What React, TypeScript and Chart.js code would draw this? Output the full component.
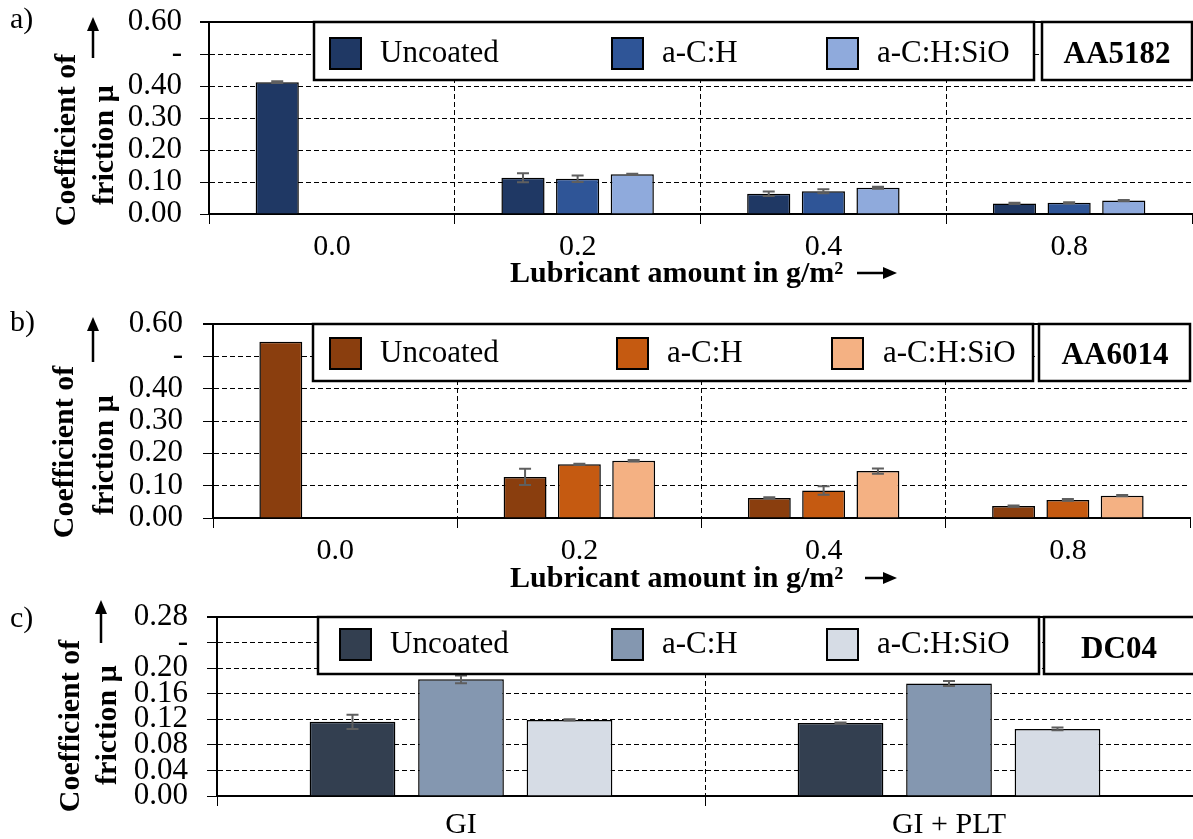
import React, { useEffect, useRef } from 'react';
import { Chart, registerables } from 'chart.js';

Chart.register(...registerables);

const FONT = "'Liberation Serif', 'Times New Roman', serif";

// ---------- data ----------
const seriesNames = ['Uncoated', 'a-C:H', 'a-C:H:SiO'];
const lubricantAmounts = ['0.0', '0.2', '0.4', '0.8'];
const dcCategories = ['GI', 'GI + PLT'];

const aaTickLabels = ['0.00', '0.10', '0.20', '0.30', '0.40', '-', '0.60'];
const dcTickLabels = ['0.00', '0.04', '0.08', '0.12', '0.16', '0.20', '-', '0.28'];

// AA5182
const aa5182Uncoated = [0.412, 0.113, 0.063, 0.033];
const aa5182UncoatedErr = [0.003, 0.014, 0.007, 0.002];
const aa5182ACH = [null, 0.110, 0.071, 0.035];
const aa5182ACHErr = [null, 0.010, 0.006, 0.002];
const aa5182SiO = [null, 0.124, 0.082, 0.042];
const aa5182SiOErr = [null, 0.002, 0.003, 0.002];

// AA6014
const aa6014Uncoated = [0.545, 0.127, 0.062, 0.037];
const aa6014UncoatedErr = [null, 0.025, 0.002, 0.002];
const aa6014ACH = [null, 0.166, 0.085, 0.056];
const aa6014ACHErr = [null, 0.002, 0.013, 0.003];
const aa6014SiO = [null, 0.177, 0.145, 0.069];
const aa6014SiOErr = [null, 0.002, 0.008, 0.002];

// DC04
const dc04Uncoated = [0.116, 0.114];
const dc04UncoatedErr = [0.011, 0.001];
const dc04ACH = [0.1825, 0.176];
const dc04ACHErr = [0.006, 0.004];
const dc04SiO = [0.119, 0.105];
const dc04SiOErr = [0.001, 0.002];

const aa5182Colors = ['#1F3864', '#2F5597', '#8FAADC'];
const aa6014Colors = ['#8A3E0E', '#C55A11', '#F4B183'];
const dc04Colors = ['#333F50', '#8497B0', '#D6DCE5'];

// ---------- helpers ----------
function drawArrow(ctx: CanvasRenderingContext2D, x1: number, y1: number, x2: number, y2: number) {
  const ang = Math.atan2(y2 - y1, x2 - x1);
  const hl = 14;
  const hw = 6;
  const bx = x2 - hl * Math.cos(ang);
  const by = y2 - hl * Math.sin(ang);
  ctx.save();
  ctx.strokeStyle = '#000';
  ctx.fillStyle = '#000';
  ctx.lineWidth = 2.5;
  ctx.beginPath();
  ctx.moveTo(x1, y1);
  ctx.lineTo(bx, by);
  ctx.stroke();
  ctx.beginPath();
  ctx.moveTo(x2, y2);
  ctx.lineTo(bx + hw * Math.sin(ang), by - hw * Math.cos(ang));
  ctx.lineTo(bx - hw * Math.sin(ang), by + hw * Math.cos(ang));
  ctx.closePath();
  ctx.fill();
  ctx.restore();
}

function rotText(ctx: CanvasRenderingContext2D, text: string, x: number, y: number) {
  ctx.save();
  ctx.translate(x, y);
  ctx.rotate(-Math.PI / 2);
  ctx.textAlign = 'center';
  ctx.textBaseline = 'middle';
  ctx.fillText(text, 0, 0);
  ctx.restore();
}

type Layout = {
  canvasTop: number;
  height: number;
  area: { left: number; top: number; right: number; bottom: number };
  xAxisHeight: number;
  yTickLen: number;
  yTickPad: number;
  xTickLen: number;
  xTickPad: number;
  legendBox: { x: number; y: number; w: number; h: number };
  swatchX: number[];
  swatchY: number;
  textX: number[];
  textBaseline: number;
  matBox: { x: number; y: number; w: number; h: number };
  matCenterX: number;
  matBaseline: number;
  letterBaseline: number;
  yTitle1: { x: number; y: number };
  yTitle2: { x: number; y: number };
  yArrow: { x: number; tail: number; tip: number };
  xTitle: { x: number; baseline: number; arrowFrom: number; arrowTo: number; arrowY: number } | null;
};

type PanelProps = {
  layout: Layout;
  labels: string[];
  values: (number | null)[][];
  errors: (number | null)[][];
  colors: string[];
  yMax: number;
  yStep: number;
  tickLabels: string[];
  material: string;
  letter: string;
};

const W = 1193;

function Panel({ layout: L, labels, values, errors, colors, yMax, yStep, tickLabels, material, letter }: PanelProps) {
  const ref = useRef<HTMLCanvasElement>(null);

  useEffect(() => {
    const canvas = ref.current;
    if (!canvas) return;

    const deco = {
      id: 'deco',
      afterDatasetsDraw(chart: any) {
        const ctx: CanvasRenderingContext2D = chart.ctx;
        const ys = chart.scales.y;
        const { left, right, top } = chart.chartArea;
        // error bars
        chart.data.datasets.forEach((ds: any, i: number) => {
          const meta = chart.getDatasetMeta(i);
          ds.errors.forEach((e: number | null, j: number) => {
            const v = ds.data[j];
            if (v == null || e == null) return;
            const bar = meta.data[j];
            const x = bar.x;
            const y1 = ys.getPixelForValue(v + e);
            const y2 = ys.getPixelForValue(v - e);
            ctx.save();
            ctx.strokeStyle = '#5f5f5f';
            ctx.lineWidth = 2;
            ctx.beginPath();
            ctx.moveTo(x, y1);
            ctx.lineTo(x, y2);
            ctx.moveTo(x - 6, y1);
            ctx.lineTo(x + 6, y1);
            ctx.moveTo(x - 6, y2);
            ctx.lineTo(x + 6, y2);
            ctx.stroke();
            ctx.restore();
          });
        });
        // top frame line
        ctx.save();
        ctx.strokeStyle = '#000';
        ctx.lineWidth = 2;
        ctx.beginPath();
        ctx.moveTo(left - L.yTickLen, top);
        ctx.lineTo(right, top);
        ctx.stroke();
        ctx.restore();

        // legend box
        const lb = L.legendBox;
        ctx.save();
        ctx.fillStyle = '#fff';
        ctx.fillRect(lb.x, lb.y, lb.w, lb.h);
        ctx.strokeStyle = '#000';
        ctx.lineWidth = 2.5;
        ctx.strokeRect(lb.x, lb.y, lb.w, lb.h);
        chart.data.datasets.forEach((ds: any, i: number) => {
          ctx.fillStyle = ds.backgroundColor;
          ctx.fillRect(L.swatchX[i], L.swatchY, 31, 31);
          ctx.strokeStyle = '#000';
          ctx.lineWidth = 2;
          ctx.strokeRect(L.swatchX[i], L.swatchY, 31, 31);
          ctx.fillStyle = '#000';
          ctx.font = `31px ${FONT}`;
          ctx.textAlign = 'left';
          ctx.textBaseline = 'alphabetic';
          ctx.fillText(ds.label, L.textX[i], L.textBaseline);
        });
        // material box
        const mb = L.matBox;
        ctx.fillStyle = '#fff';
        ctx.fillRect(mb.x, mb.y, mb.w, mb.h);
        ctx.strokeStyle = '#000';
        ctx.lineWidth = 2.5;
        ctx.strokeRect(mb.x, mb.y, mb.w, mb.h);
        ctx.fillStyle = '#000';
        ctx.font = `bold 31px ${FONT}`;
        ctx.textAlign = 'center';
        ctx.fillText(material, L.matCenterX, L.matBaseline);
        ctx.restore();
      },
      afterDraw(chart: any) {
        const ctx: CanvasRenderingContext2D = chart.ctx;
        ctx.save();
        ctx.fillStyle = '#000';
        ctx.font = `30px ${FONT}`;
        ctx.textAlign = 'left';
        ctx.textBaseline = 'alphabetic';
        ctx.fillText(letter, 10, L.letterBaseline);
        ctx.font = `bold 30px ${FONT}`;
        rotText(ctx, 'Coefficient of', L.yTitle1.x, L.yTitle1.y);
        rotText(ctx, 'friction µ', L.yTitle2.x, L.yTitle2.y);
        drawArrow(ctx, L.yArrow.x, L.yArrow.tail, L.yArrow.x, L.yArrow.tip);
        if (L.xTitle) {
          ctx.font = `bold 30px ${FONT}`;
          ctx.textAlign = 'left';
          ctx.textBaseline = 'alphabetic';
          ctx.fillText('Lubricant amount in g/m²', L.xTitle.x, L.xTitle.baseline);
          drawArrow(ctx, L.xTitle.arrowFrom, L.xTitle.arrowY, L.xTitle.arrowTo, L.xTitle.arrowY);
        }
        ctx.restore();
      },
    };

    const chart = new Chart(canvas, {
      type: 'bar',
      data: {
        labels,
        datasets: values.map((vals, i) => ({
          label: seriesNames[i],
          data: vals,
          errors: errors[i],
          backgroundColor: colors[i],
          borderColor: '#000',
          borderWidth: 1.5,
          categoryPercentage: 0.667,
          barPercentage: 0.79,
        })) as any,
      },
      options: {
        animation: false,
        responsive: false,
        maintainAspectRatio: false,
        layout: {
          padding: {
            left: 0,
            top: L.area.top,
            right: W - L.area.right,
            bottom: L.height - L.area.bottom - L.xAxisHeight,
          },
        },
        plugins: {
          legend: { display: false },
          tooltip: { enabled: false },
        },
        scales: {
          x: {
            offset: true,
            grid: {
              offset: true,
              color: (c: any) => (c.index === undefined ? 'rgba(0,0,0,0)' : '#000'),
              tickColor: '#000',
              lineWidth: 1,
              tickLength: L.xTickLen,
            },
            border: { color: '#000', width: 2, dash: [5, 3] },
            ticks: {
              color: '#000',
              font: { family: FONT, size: 30 },
              padding: L.xTickPad,
              autoSkip: false,
              maxRotation: 0,
            },
            afterFit: (s: any) => {
              s.height = L.xAxisHeight;
              s.paddingLeft = 0;
              s.paddingRight = 0;
            },
          },
          y: {
            min: 0,
            max: yMax,
            grid: {
              color: '#000',
              tickColor: '#000',
              lineWidth: 1,
              tickLength: L.yTickLen,
            },
            border: { color: '#000', width: 2, dash: [5, 3] },
            ticks: {
              stepSize: yStep,
              autoSkip: false,
              color: '#000',
              font: { family: FONT, size: 31 },
              padding: L.yTickPad,
              callback: (v: any) => tickLabels[Math.round(Number(v) / yStep)] ?? '',
            },
            afterFit: (s: any) => {
              s.width = L.area.left;
              s.paddingTop = 0;
              s.paddingBottom = 0;
            },
          },
        },
      } as any,
      plugins: [deco as any],
    });
    return () => chart.destroy();
  }, []);

  return (
    <canvas
      ref={ref}
      width={W}
      height={L.height}
      style={{ position: 'absolute', left: 0, top: L.canvasTop, display: 'block' }}
    />
  );
}

const layoutA: Layout = {
  canvasTop: 0,
  height: 300,
  area: { left: 209, top: 22, right: 1192, bottom: 214 },
  xAxisHeight: 50,
  yTickLen: 9,
  yTickPad: 18,
  xTickLen: 10,
  xTickPad: 5,
  legendBox: { x: 314, y: 22, w: 720, h: 58 },
  swatchX: [330, 612, 827],
  swatchY: 38,
  textX: [380, 662, 877],
  textBaseline: 62,
  matBox: { x: 1042, y: 22, w: 150, h: 58 },
  matCenterX: 1117,
  matBaseline: 63,
  letterBaseline: 28,
  yTitle1: { x: 67, y: 140 },
  yTitle2: { x: 105, y: 145 },
  yArrow: { x: 93, tail: 58, tip: 17 },
  xTitle: { x: 510, baseline: 282, arrowFrom: 857, arrowTo: 897, arrowY: 273 },
};

const layoutB: Layout = {
  canvasTop: 295,
  height: 310,
  area: { left: 213, top: 29, right: 1190, bottom: 223 },
  xAxisHeight: 50,
  yTickLen: 10,
  yTickPad: 20,
  xTickLen: 10,
  xTickPad: 5,
  legendBox: { x: 313, y: 29, w: 720, h: 57 },
  swatchX: [330, 617, 832],
  swatchY: 43,
  textX: [380, 667, 883],
  textBaseline: 67,
  matBox: { x: 1039, y: 29, w: 151, h: 57 },
  matCenterX: 1115,
  matBaseline: 69,
  letterBaseline: 36,
  yTitle1: { x: 65, y: 157 },
  yTitle2: { x: 105, y: 160 },
  yArrow: { x: 93, tail: 67, tip: 22 },
  xTitle: { x: 510, baseline: 292, arrowFrom: 865, arrowTo: 897, arrowY: 283 },
};

const layoutC: Layout = {
  canvasTop: 590,
  height: 249,
  area: { left: 217, top: 27, right: 1193, bottom: 206 },
  xAxisHeight: 40,
  yTickLen: 10,
  yTickPad: 19,
  xTickLen: 10,
  xTickPad: 1,
  legendBox: { x: 318, y: 27, w: 721, h: 57 },
  swatchX: [340, 612, 827],
  swatchY: 39,
  textX: [390, 662, 877],
  textBaseline: 63,
  matBox: { x: 1044, y: 27, w: 152, h: 57 },
  matCenterX: 1119,
  matBaseline: 68,
  letterBaseline: 37,
  yTitle1: { x: 71, y: 136 },
  yTitle2: { x: 108, y: 135 },
  yArrow: { x: 101, tail: 53, tip: 10 },
  xTitle: null,
};

export default function App() {
  useEffect(() => {
    document.body.style.margin = '0';
  }, []);
  return (
    <div style={{ position: 'absolute', left: 0, top: 0, width: W, height: 839, background: '#fff', overflow: 'hidden' }}>
      <Panel
        layout={layoutA}
        labels={lubricantAmounts}
        values={[aa5182Uncoated, aa5182ACH, aa5182SiO]}
        errors={[aa5182UncoatedErr, aa5182ACHErr, aa5182SiOErr]}
        colors={aa5182Colors}
        yMax={0.6}
        yStep={0.1}
        tickLabels={aaTickLabels}
        material="AA5182"
        letter="a)"
      />
      <Panel
        layout={layoutB}
        labels={lubricantAmounts}
        values={[aa6014Uncoated, aa6014ACH, aa6014SiO]}
        errors={[aa6014UncoatedErr, aa6014ACHErr, aa6014SiOErr]}
        colors={aa6014Colors}
        yMax={0.6}
        yStep={0.1}
        tickLabels={aaTickLabels}
        material="AA6014"
        letter="b)"
      />
      <Panel
        layout={layoutC}
        labels={dcCategories}
        values={[dc04Uncoated, dc04ACH, dc04SiO]}
        errors={[dc04UncoatedErr, dc04ACHErr, dc04SiOErr]}
        colors={dc04Colors}
        yMax={0.28}
        yStep={0.04}
        tickLabels={dcTickLabels}
        material="DC04"
        letter="c)"
      />
    </div>
  );
}
